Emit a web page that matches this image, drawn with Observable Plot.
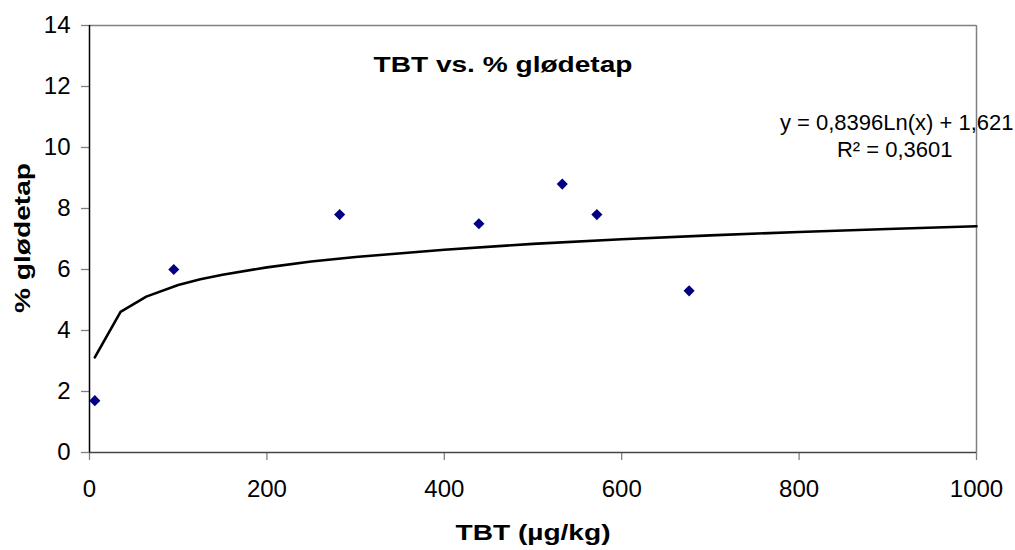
<!DOCTYPE html>
<html>
<head>
<meta charset="utf-8">
<script src="https://cdn.jsdelivr.net/npm/d3@7"></script>
<script src="https://cdn.jsdelivr.net/npm/@observablehq/plot@0.6"></script>
<style>
  html, body { margin: 0; padding: 0; background: #fff; }
  #chart { width: 1015px; height: 550px; }
  svg { font-family: "Liberation Sans", Arial, sans-serif; }
</style>
</head>
<body>
<div id="chart"></div>
<script>
// Observed data points (TBT µg/kg, % glødetap)
const tbt = [6, 95, 282, 439, 533, 572, 676];
const glodetap = [1.7, 6.0, 7.8, 7.5, 8.8, 7.8, 5.3];

const trendX = [6, 35, 64, 100, 125, 150, 200, 250, 300, 400, 500, 600, 700, 800, 900, 1000];
const trendY = [3.12, 4.61, 5.11, 5.49, 5.68, 5.83, 6.07, 6.26, 6.41, 6.65, 6.84, 6.99, 7.12, 7.23, 7.33, 7.42];

const xTicks = [0, 200, 400, 600, 800, 1000];
const yTicks = [0, 2, 4, 6, 8, 10, 12, 14];

const chartTitle = "TBT vs. % glødetap";
const xLabel = "TBT (µg/kg)";
const yLabel = "% glødetap";
const eqLine1 = "y = 0,8396Ln(x) + 1,621";
const eqLine2 = "R² = 0,3601";

const points = tbt.map((x, i) => ({x, y: glodetap[i]}));
const trend = trendX.map((x, i) => ({x, y: trendY[i]}));

const plot = Plot.plot({
  width: 1015,
  height: 550,
  marginLeft: 89,
  marginRight: 39,
  marginTop: 25,
  marginBottom: 98,
  style: {fontFamily: "'Liberation Sans', Arial, sans-serif", fontSize: "24px", color: "#000", background: "#fff"},
  x: {domain: [0, 1000], label: null},
  y: {domain: [0, 14], label: null},
  marks: [
    Plot.ruleY([14], {stroke: "#808080", strokeWidth: 1.5}),
    Plot.ruleX([1000], {stroke: "#808080", strokeWidth: 1.5}),
    Plot.axisX({ticks: xTicks, tickSize: 8, tickPadding: 19, tickFormat: d => String(d), stroke: "#808080", strokeOpacity: 1, strokeWidth: 1.3, fontSize: 24, label: null}),
    Plot.axisY({ticks: yTicks, tickSize: 8, tickPadding: 11, tickFormat: d => String(d), stroke: "#808080", strokeOpacity: 1, strokeWidth: 1.3, fontSize: 24, label: null}),
    Plot.ruleY([0], {stroke: "#444", strokeWidth: 1.6}),
    Plot.ruleX([0], {stroke: "#000", strokeWidth: 1.5}),
    Plot.line(trend, {x: "x", y: "y", stroke: "#000", strokeWidth: 2.6}),
    Plot.dot(points, {x: "x", y: "y", symbol: "diamond2", r: 5, fill: "#000080", stroke: "none"}),
    Plot.text([chartTitle], {frameAnchor: "top", dx: -30, dy: 39, fontSize: 22, fontWeight: "bold", textAnchor: "middle", lineAnchor: "middle", className: "stretch-title"}),
    Plot.text([eqLine1], {frameAnchor: "top-right", dx: 37, dy: 97, fontSize: 22, textAnchor: "end", lineAnchor: "middle"}),
    Plot.text([eqLine2], {frameAnchor: "top-right", dx: -24, dy: 124, fontSize: 22, textAnchor: "end", lineAnchor: "middle"}),
    Plot.text([xLabel], {frameAnchor: "bottom", dy: 80, fontSize: 22, fontWeight: "bold", textAnchor: "middle", lineAnchor: "middle", className: "stretch-x"}),
    Plot.text([yLabel], {frameAnchor: "left", dx: -67, dy: -1, rotate: -90, fontSize: 22, fontWeight: "bold", textAnchor: "middle", lineAnchor: "middle", className: "stretch-y"})
  ]
});
// Excel renders the bold labels horizontally stretched; mimic with textLength
const stretch = {"stretch-title": 259, "stretch-x": 155, "stretch-y": 150};
for (const [cls, len] of Object.entries(stretch)) {
  plot.querySelectorAll(`g.${cls} text`).forEach(t => {
    t.setAttribute("textLength", len);
    t.setAttribute("lengthAdjust", "spacingAndGlyphs");
  });
}
document.getElementById("chart").appendChild(plot);
</script>
</body>
</html>
